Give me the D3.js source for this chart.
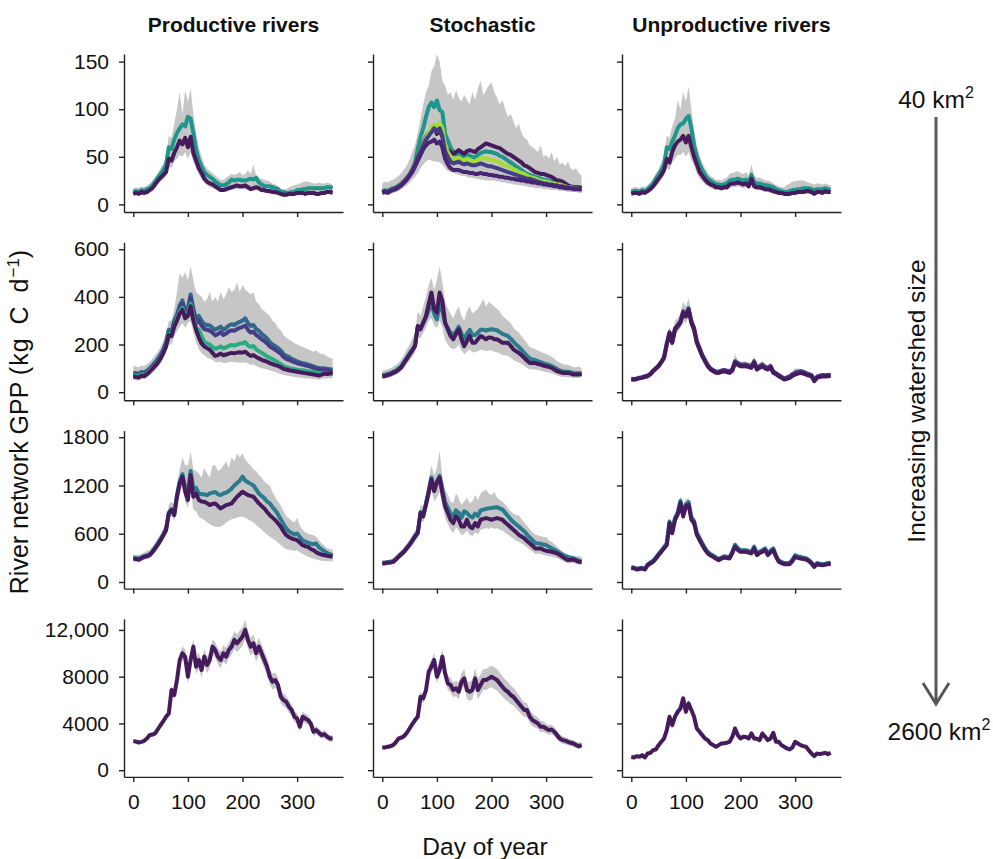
<!DOCTYPE html>
<html lang="en">
<head>
<meta charset="UTF-8">
<title>River network GPP</title>
<style>
  body { margin: 0; background: #fff; }
  svg text { font-family: "Liberation Sans", Arial, Helvetica, sans-serif; fill: #111; }
</style>
</head>
<body>
<div id="chart"></div>
<script src="https://d3js.org/d3.v7.min.js"></script>
<script>
// day of year, sampled every 5 days
var days = d3.range(0, 366, 5);

var colTitles = ["Productive rivers", "Stochastic", "Unproductive rivers"];
var yTickValues = [[0, 50, 100, 150], [0, 200, 400, 600], [0, 600, 1200, 1800], [0, 4000, 8000, 12000]];
var dayTicks = [0, 100, 200, 300];

// ---- row 1 (40 km2) ----
var prod1Hi = [17,18,17,19,18,20,22,25,29,33, 38,43,50,72,70,85,100,118,95,120, 108,122,95,75,60,50,42,38,35,33, 30,28,26,26,28,30,32,31,32,34, 31,32,36,32,42,30,28,27,26,25, 24,22,21,19,17,16,16,18,19,20, 21,22,23,24,24,23,22,22,23,22, 22,23,22,21];
var prod1Lo = [9,10,9,11,10,11,13,14,17,21, 24,26,29,40,38,45,48,52,50,55, 48,55,44,38,31,27,23,20,18,17, 16,14,13,13,13,14,15,16,16,16, 16,16,15,14,14,15,14,13,12,12, 11,11,10,10,9,8,8,9,9,9, 10,10,10,9,10,10,10,9,9,10, 10,11,11,10];
var prod1Teal = [13,14,13,15,14,16,17,20,24,28, 32,36,42,60,58,68,75,80,84,82, 92,90,75,57,47,40,34,31,29,27, 24,22,20,20,21,23,26,25,26,26, 25,25,26,27,26,28,23,21,19,19, 19,18,17,16,13,13,12,12,13,13, 15,15,16,16,17,17,17,17,17,17, 17,18,18,17];
var prod1Purple = [11,12,11,13,12,13,15,17,21,25, 28,31,34,48,46,54,60,67,63,70, 60,71,54,46,38,33,27,24,22,21, 19,17,15,15,16,17,18,19,20,19, 19,20,18,16,17,18,17,15,15,14, 14,13,13,12,11,10,10,11,11,11, 12,12,12,11,12,12,12,11,11,12, 12,13,13,12];

var stoch1Hi = [22,24,23,25,26,28,30,33,37,41, 47,55,63,75,90,105,118,125,140,145, 158,150,130,125,115,118,110,120,112,108, 115,110,105,118,110,122,130,115,120,125, 128,118,112,105,110,100,92,95,88,80, 85,75,70,68,62,60,58,55,62,50, 52,48,55,45,50,42,44,40,45,38, 36,38,33,30];
var stoch1Lo = [10,11,10,11,12,13,14,16,18,20, 23,26,29,33,38,42,45,47,46,45, 45,44,42,38,35,34,33,32,31,30, 30,29,28,28,27,27,26,26,25,25, 25,25,24,24,23,23,22,22,21,21, 20,20,19,19,18,18,17,17,17,16, 16,16,15,15,15,14,14,14,13,13, 13,13,12,12];
var stoch1Teal = [14,15,14,16,17,18,20,22,25,28, 32,37,44,58,71,80,92,102,107,102, 109,99,97,74,67,60,55,52,54,52, 50,53,51,50,49,52,54,55,56,55, 55,54,53,51,50,48,46,44,42,40, 38,36,34,32,31,30,29,28,27,26, 26,25,24,24,23,22,21,20,19,19, 18,18,17,17];
var stoch1Yellow = [13,14,13,15,16,17,19,21,24,27, 31,36,42,50,57,63,70,75,80,84, 82,86,80,62,55,50,47,48,49,47, 46,48,47,45,45,47,48,49,48,47, 47,46,45,44,42,41,40,39,37,36, 34,33,32,30,29,28,27,26,25,24, 24,23,22,22,21,21,20,19,18,18, 17,17,16,16];
var stoch1Indigo = [13,14,13,15,16,17,19,21,24,27, 31,36,42,50,56,62,68,72,76,80, 76,80,72,56,50,45,43,44,45,43, 42,43,42,41,41,42,43,42,41,40, 40,39,38,37,36,35,34,33,32,31, 30,29,28,27,27,26,25,24,23,22, 22,21,21,20,20,19,19,18,18,17, 17,17,16,16];
var stoch1Low = [12,13,12,14,15,16,18,20,23,26, 30,34,40,46,52,58,62,65,66,68, 64,66,60,48,42,38,36,36,36,35, 34,34,33,33,32,32,33,32,32,31, 31,30,30,29,29,28,28,27,27,26, 26,25,25,24,24,23,23,22,22,21, 21,20,20,19,19,18,18,17,17,17, 16,16,16,16];
var stoch1Purple = [13,14,13,15,16,17,19,21,24,27, 31,36,42,50,57,64,71,75,78,81, 74,78,71,60,57,55,53,55,57,55, 53,56,57,56,55,58,60,62,64,63, 62,61,60,59,57,55,53,52,50,48, 46,44,41,40,38,36,34,33,32,32, 31,30,29,27,25,25,24,22,20,19, 18,18,18,17];

var unprod1Hi = [17,18,18,17,19,18,20,23,27,33, 37,44,50,72,70,82,90,110,100,118, 108,124,100,78,62,52,44,38,33,30, 28,26,26,25,27,28,32,33,34,35, 33,32,34,30,42,30,28,28,27,25, 25,24,22,20,19,18,18,20,22,24, 24,25,25,25,24,23,22,21,22,22, 21,22,21,20];
var unprod1Lo = [9,10,10,9,11,10,12,13,16,19, 22,26,30,38,36,44,48,52,52,55, 50,55,47,40,33,27,24,21,19,17, 16,15,15,14,15,15,17,18,18,19, 18,17,18,16,20,16,15,15,14,13, 13,12,11,11,10,10,9,9,9,10, 10,11,11,11,11,11,11,9,11,11, 10,11,11,11];
var unprod1Teal = [13,14,14,13,15,14,16,19,22,27, 31,36,42,60,58,66,72,80,84,85, 90,93,80,62,50,42,36,31,27,25, 23,21,21,20,21,22,25,26,26,27, 26,25,26,23,31,23,22,22,21,20, 20,19,18,16,15,14,13,13,14,15, 15,16,16,17,17,17,16,15,16,16, 16,17,16,16];
var unprod1Purple = [11,12,12,11,13,12,14,16,19,23, 27,31,36,48,44,55,62,66,68,72, 65,72,60,50,42,34,30,26,23,21, 20,18,18,17,18,18,21,22,22,23, 22,21,22,19,27,19,18,18,17,16, 16,15,14,13,12,12,11,11,11,12, 12,13,13,13,14,14,13,11,13,13, 12,14,13,13];

// ---- row 2 ----
var prod2Hi = [110,108,105,112,110,118,128,140,155,170, 190,215,245,300,300,350,420,500,480,505, 470,530,470,420,410,400,380,390,420,380, 400,380,420,390,410,440,420,430,460,420, 450,430,420,410,420,380,370,350,340,330, 320,300,290,270,260,240,230,220,215,205, 200,195,190,185,180,175,170,175,165,160, 158,150,145,140];
var prod2Lo = [52,50,48,55,53,60,70,80,92,105, 120,140,165,200,200,235,255,275,290,270, 290,300,250,210,180,165,155,145,140,135, 128,126,128,122,124,126,128,126,125,125, 124,125,120,115,116,110,105,100,98,95, 92,88,85,80,76,72,70,68,66,64, 62,61,60,58,57,56,55,54,52,55, 58,57,59,58];
var prod2Blue = [82,80,78,85,83,90,100,112,125,140, 158,180,210,262,255,300,325,365,385,340, 352,410,350,305,320,300,285,282,280,270, 262,268,275,262,270,280,285,282,290,295, 300,310,290,278,282,265,258,245,236,225, 210,200,193,185,175,160,152,148,140,135, 130,125,122,120,116,112,108,104,102,100, 100,98,96,95];
var prod2Indigo = [76,74,72,79,77,84,94,106,118,132, 150,172,200,250,245,290,318,350,372,330, 340,395,335,290,300,280,265,262,258,250, 238,244,252,240,246,255,260,258,265,270, 274,280,262,250,254,240,232,222,214,205, 192,185,178,170,162,148,140,136,130,126, 122,118,116,113,110,106,102,98,96,94, 94,92,90,89];
var prod2Green = [72,70,68,75,73,80,90,102,114,128, 145,168,195,245,240,280,310,340,355,320, 330,372,315,270,262,235,212,205,200,190, 182,186,192,184,188,195,198,196,200,204, 205,210,196,190,194,180,172,165,158,150, 145,138,132,125,118,110,105,102,98,96, 94,92,92,90,88,86,84,82,80,79, 78,78,77,77];
var prod2Purple = [66,64,62,69,68,75,86,98,110,124, 142,165,192,240,235,275,300,330,345,310, 320,360,300,262,230,205,192,185,178,165, 152,156,162,155,158,162,165,163,166,168, 166,170,160,152,156,148,142,136,132,128, 122,118,114,110,105,98,95,92,90,88, 86,84,82,80,78,76,74,72,70,74, 78,76,80,78];

var stoch2Hi = [90,92,96,100,108,115,125,138,158,180, 200,225,250,340,320,360,400,450,480,430, 470,530,460,380,350,330,310,340,360,320, 300,340,360,330,340,350,370,390,360,380, 370,360,350,340,320,310,300,290,270,260, 250,235,220,205,190,185,180,175,170,165, 160,155,150,140,130,125,118,115,115,110, 105,105,108,100];
var stoch2Lo = [55,56,60,62,68,72,80,88,102,118, 132,148,165,235,225,250,270,300,310,280, 270,300,270,220,200,185,180,185,200,175, 160,170,180,168,168,172,178,178,172,175, 175,170,168,162,156,155,152,145,135,130, 125,118,110,102,96,95,95,92,90,88, 85,82,80,75,70,67,64,64,63,62, 60,60,60,62];
var stoch2Teal = [72,73,77,80,86,91,100,110,128,145, 163,180,198,275,268,290,315,345,370,330, 306,370,340,290,268,250,240,255,275,245, 225,245,262,240,240,250,262,262,258,262, 264,262,260,252,245,240,236,225,212,200, 190,178,165,152,142,138,135,130,126,122, 118,115,110,104,97,92,88,87,86,84, 80,80,80,80];
var stoch2Purple = [67,68,72,75,81,86,95,105,123,140, 158,175,193,278,264,292,320,370,418,348, 334,418,383,292,264,236,222,245,264,222, 193,215,236,207,207,222,236,230,222,230, 229,222,222,215,207,207,207,195,180,172, 165,155,144,132,123,123,123,118,116,112, 109,106,102,95,88,84,81,81,81,78, 74,74,74,76];

var unprod2Hi = [60,58,62,66,68,72,76,85,98,110, 122,140,160,230,275,235,300,310,330,380, 360,395,330,295,240,205,175,150,125,110, 100,95,95,100,102,98,96,108,160,135, 128,128,130,125,122,150,115,122,132,118, 112,122,96,88,80,72,64,70,76,85, 100,98,98,96,90,85,80,60,72,76, 78,78,80,80];
var unprod2Lo = [48,47,50,53,55,58,61,68,80,90, 100,115,132,185,230,190,240,255,268,300, 290,315,265,240,190,165,140,120,100,88, 81,76,75,79,81,78,75,84,110,106, 100,100,100,97,94,112,88,94,100,92, 88,96,75,70,62,55,49,51,55,62, 68,72,75,72,68,65,62,42,55,59, 62,61,62,63];
var unprod2Blue = [56,55,58,61,63,67,70,78,91,101, 112,128,148,205,252,212,268,282,298,340, 325,352,298,270,214,185,156,135,114,100, 93,87,86,90,93,90,88,97,130,122, 116,116,116,112,109,130,102,109,116,107, 101,110,87,80,72,65,58,62,67,76, 82,86,88,85,80,76,72,52,65,69, 72,71,72,73];
var unprod2Purple = [53,52,55,58,60,64,67,75,88,98, 109,125,144,200,248,207,262,276,290,332, 318,346,290,262,207,179,151,130,109,95, 88,82,81,85,88,84,81,90,123,115, 109,109,109,105,102,123,95,102,109,100, 95,105,81,75,67,60,53,56,60,68, 74,78,81,78,74,70,67,46,60,64, 67,66,67,68];

// ---- row 3 ----
var prod3Hi = [345,340,335,350,370,385,400,440,490,545, 600,670,740,960,1000,960,1200,1400,1550,1450, 1450,1620,1400,1380,1350,1300,1420,1350,1300,1450, 1450,1380,1400,1450,1500,1420,1550,1500,1600,1550, 1600,1520,1480,1450,1400,1380,1330,1300,1250,1220, 1200,1120,1050,1000,950,880,820,790,760,740, 800,700,650,620,600,590,580,560,520,480, 450,420,410,400];
var prod3Lo = [255,250,245,260,278,286,298,330,372,418, 470,525,585,780,820,760,960,1100,1200,1000, 920,1150,900,880,810,790,770,740,720,700, 686,680,690,710,740,760,780,790,800,810, 810,800,780,760,740,710,680,650,620,590, 561,540,520,490,460,430,410,400,395,390, 395,370,350,330,315,300,290,280,270,265, 262,260,258,255];
var prod3Teal = [300,295,290,305,322,332,345,382,428,478, 532,592,656,862,905,845,1080,1250,1340,1170, 1120,1380,1160,1170,1100,1090,1090,1080,1101,1110, 1120,1090,1080,1100,1110,1130,1160,1200,1230,1260, 1309,1260,1240,1220,1200,1150,1100,1070,1040,1000, 977,930,890,840,780,720,665,630,610,590, 603,560,520,500,490,475,470,478,430,405, 380,360,345,335];
var prod3Purple = [291,285,278,295,312,320,333,370,416,465, 520,580,644,852,894,831,1060,1226,1309,1122, 1018,1330,1060,1101,1018,1000,998,980,956,970, 977,945,915,935,956,965,977,1020,1060,1090, 1122,1100,1081,1070,1060,1020,977,945,915,870, 831,800,769,730,686,630,582,560,540,530, 520,490,457,445,436,410,395,370,353,340, 333,325,320,315];

var stoch3Hi = [265,268,275,282,292,325,360,395,430,480, 525,580,640,690,960,930,1100,1280,1450,1320, 1420,1630,1300,1150,1080,1000,980,1100,1040,960, 1000,1050,980,1000,1080,1020,1100,1130,1150,1100, 1080,1120,1050,1020,1000,960,920,880,850,830, 830,780,740,700,660,620,590,580,570,560, 560,520,500,470,440,410,380,360,340,330, 330,320,320,310];
var stoch3Lo = [205,207,212,216,224,250,282,310,340,380, 415,460,510,545,780,740,870,1000,1150,1000, 1050,1120,950,800,720,650,610,680,640,580, 600,640,590,570,620,590,650,660,670,660, 680,660,670,650,640,610,590,560,540,515, 500,480,460,430,400,380,350,350,350,335, 330,320,315,305,295,280,260,245,230,232, 235,225,215,212];
var stoch3Teal = [240,242,248,252,260,290,323,355,386,430, 470,520,575,617,870,830,980,1130,1300,1160, 1250,1320,1150,990,920,850,820,890,860,800, 879,860,820,800,850,820,890,900,910,915, 920,925,930,915,900,860,820,780,745,715, 690,660,630,590,555,520,485,480,475,465, 460,440,420,400,385,360,340,320,313,300, 296,280,265,262];
var stoch3Purple = [230,232,238,242,250,280,313,345,376,420, 460,510,565,607,858,816,962,1109,1276,1130, 1234,1297,1109,941,858,774,732,816,774,690, 690,774,690,669,732,690,774,785,795,785, 774,785,795,785,774,740,711,680,649,620, 586,565,544,510,481,450,418,418,418,400, 389,382,376,366,356,335,313,290,272,276, 280,265,251,250];

var unprod3Hi = [200,195,180,188,193,180,240,262,286,325, 375,418,465,510,790,670,850,920,1070,900, 1030,1040,860,800,650,580,510,450,400,370, 350,325,305,325,345,335,330,410,500,450, 420,420,420,405,395,470,375,400,420,440, 375,410,440,350,280,262,250,250,252,300, 365,345,335,325,315,295,262,215,250,242, 235,240,250,252];
var unprod3Lo = [160,155,140,147,152,140,192,212,232,270, 312,350,390,430,690,570,720,780,920,760, 880,900,720,680,545,485,430,370,330,305, 290,268,252,268,282,277,272,330,400,370, 350,350,350,340,332,385,312,335,350,370, 312,345,370,292,234,220,208,208,208,240, 290,280,272,266,262,242,214,175,206,200, 194,200,206,208];
var unprod3Teal = [185,180,165,172,177,165,220,242,264,303, 350,390,435,478,752,630,798,862,1010,845, 970,992,805,760,612,548,482,420,374,346, 328,305,287,305,320,314,308,378,462,420, 396,396,396,384,374,440,352,378,396,418, 352,390,418,330,266,250,236,236,236,276, 332,318,310,302,296,275,244,200,236,228, 222,228,236,240];
var unprod3Purple = [175,170,155,162,167,155,209,230,251,290, 335,375,418,460,732,607,774,837,983,816, 941,962,774,732,586,523,460,400,356,330, 313,290,272,290,305,299,293,360,439,400, 376,376,376,365,356,418,335,360,376,397, 335,370,397,313,251,235,222,222,222,260, 313,300,293,286,280,260,230,188,222,215, 209,215,222,225];

// ---- row 4 (2600 km2) ----
var prod4Hi = [2650,2620,2540,2590,2690,2890,3180,3240,3340,3700, 4080,4430,4820,5150,7200,6800,8150,9950,10600,10300, 8700,10100,11250,9600,10100,9300,10400,9700,10100,11200, 10950,10400,10150,10700,10450,10950,11300,11900,11600,11950, 12200,12900,11900,11350,11600,10800,11300,10750,10150,9600, 8700,8250,8350,7900,6900,6550,6400,5950,5650,5050, 4900,4150,5000,4850,4700,4400,3650,3780,3550,3330, 3400,3160,3000,2980];
var prod4Lo = [2330,2290,2210,2260,2350,2550,2830,2870,2960,3310, 3650,3980,4330,4580,6500,6080,7300,8900,9450,9150, 7400,8800,9900,8200,8750,7900,9000,8300,8750,9900, 9600,9050,8750,9300,9000,9600,9850,10400,10100,10350, 10650,11200,10400,9800,10100,9250,9850,9250,8700,8150, 7350,6900,7080,6650,5700,5450,5330,4920,4650,4100, 3970,3300,4150,4000,3880,3600,2930,3080,2860,2680, 2770,2560,2430,2450];
var prod4Purple = [2486,2450,2370,2420,2514,2714,3000,3050,3143,3500, 3857,4200,4571,4857,6857,6428,7714,9428,10000,9714, 8000,9428,10571,8857,9428,8571,9714,9000,9428,10571, 10285,9714,9428,10000,9714,10285,10571,11143,10857,11143, 11428,12000,11143,10571,10857,10000,10571,10000,9428,8857, 8000,7571,7714,7286,6286,6000,5857,5428,5143,4571, 4428,3714,4571,4428,4286,4000,3286,3428,3200,3000, 3086,2857,2714,2714];

var stoch4Hi = [2100,2110,2170,2230,2330,2600,2930,3010,3160,3460, 3850,4250,4600,4900,6700,6550,7300,8950,9450,10050, 8600,9200,10400,8900,8050,7950,7500,7700,7450,8300, 8650,7650,7550,7750,8750,7800,8200,8650,8650,8800, 8950,8800,8650,8350,8050,7750,7550,7250,7050,6750, 6450,6100,5800,5750,5150,4850,4650,4500,4200,4180, 4000,3850,3880,3680,3380,3080,2900,2850,2740,2650, 2580,2430,2340,2420];
var stoch4Lo = [1790,1800,1840,1880,1970,2220,2520,2570,2690,2960, 3300,3660,3980,4250,5880,5750,6420,7900,8300,8850, 7450,8000,9050,7700,6850,6650,6250,6350,6050,6900, 7150,6100,5950,6050,7050,6050,6450,6850,6850,7000, 7100,6950,6800,6550,6300,6050,5900,5650,5550,5280, 5020,4780,4520,4540,4020,3760,3650,3520,3250,3260, 3150,3020,3080,2900,2640,2380,2250,2220,2130,2050, 2000,1870,1790,1870];
var stoch4Purple = [1943,1950,2000,2050,2143,2400,2714,2780,2914,3200, 3571,3950,4286,4571,6286,6143,6857,8428,8857,9428, 8000,8571,9714,8286,7428,7286,6857,7000,6714,7571, 7857,6857,6714,6857,7857,6857,7286,7714,7714,7857, 8000,7857,7714,7428,7143,6857,6714,6428,6286,6000, 5714,5428,5143,5143,4571,4286,4143,4000,3714,3714, 3571,3428,3480,3286,3000,2714,2571,2530,2428,2343, 2286,2143,2057,2143];

var unprod4Hi = [1260,1210,1320,1270,1410,1210,1560,1610,1860,1920, 2300,2600,2900,3650,4850,4100,4850,5300,5600,6500, 5300,6050,5450,4850,3800,3500,3200,2900,2750,2450, 2300,2150,2300,2450,2470,2520,2600,3050,3800,3200, 2900,3050,3040,2900,3350,2900,2880,2750,3350,3050, 2750,2900,3400,2600,2600,2300,2150,2000,1910,2100, 2600,2450,2300,2210,2150,1850,1550,1310,1550,1490, 1550,1610,1490,1610];
var unprod4Lo = [1030,980,1080,1035,1160,980,1300,1350,1570,1620, 1990,2260,2530,3210,4300,3620,4300,4700,4980,5800, 4700,5380,4840,4300,3350,3080,2800,2530,2390,2120, 1990,1850,1990,2120,2130,2180,2260,2670,3350,2800, 2530,2670,2660,2530,2940,2530,2520,2390,2940,2670, 2390,2530,3000,2260,2260,1990,1850,1710,1630,1800, 2260,2120,1990,1910,1850,1580,1310,1090,1310,1260, 1310,1370,1260,1370];
var unprod4Purple = [1143,1090,1200,1150,1286,1086,1428,1480,1714,1770, 2143,2430,2714,3428,4571,3857,4571,5000,5286,6143, 5000,5714,5143,4571,3571,3286,3000,2714,2571,2286, 2143,2000,2143,2286,2300,2350,2428,2857,3571,3000, 2714,2857,2850,2714,3143,2714,2700,2571,3143,2857, 2571,2714,3200,2428,2430,2143,2000,1857,1771,1950, 2428,2286,2143,2057,2000,1714,1428,1200,1428,1371, 1428,1486,1371,1486];

// colours
var cPurple = "#461b5d", cTeal = "#1f968b", cTeal3 = "#2a7b8e", cBlue = "#31668d",
    cIndigo = "#433e85", cGreen = "#27ad81", cYellow = "#a5db36", cLow = "#482475", cGrey = "#c6c6c6";

var panels = [
  { row: 0, col: 0, hi: prod1Hi, lo: prod1Lo, lines: [[prod1Teal, cTeal], [prod1Purple, cPurple]] },
  { row: 0, col: 1, hi: stoch1Hi, lo: stoch1Lo, lines: [[stoch1Teal, cTeal], [stoch1Purple, cPurple], [stoch1Yellow, cYellow], [stoch1Indigo, cIndigo], [stoch1Low, cLow]] },
  { row: 0, col: 2, hi: unprod1Hi, lo: unprod1Lo, lines: [[unprod1Teal, cTeal], [unprod1Purple, cPurple]] },
  { row: 1, col: 0, hi: prod2Hi, lo: prod2Lo, lines: [[prod2Blue, cBlue], [prod2Indigo, cIndigo], [prod2Green, cGreen], [prod2Purple, cPurple]] },
  { row: 1, col: 1, hi: stoch2Hi, lo: stoch2Lo, lines: [[stoch2Teal, cTeal3], [stoch2Purple, cPurple]] },
  { row: 1, col: 2, hi: unprod2Hi, lo: unprod2Lo, lines: [[unprod2Blue, cIndigo], [unprod2Purple, cPurple]] },
  { row: 2, col: 0, hi: prod3Hi, lo: prod3Lo, lines: [[prod3Teal, cTeal3], [prod3Purple, cPurple]] },
  { row: 2, col: 1, hi: stoch3Hi, lo: stoch3Lo, lines: [[stoch3Teal, cTeal3], [stoch3Purple, cPurple]] },
  { row: 2, col: 2, hi: unprod3Hi, lo: unprod3Lo, lines: [[unprod3Teal, cTeal3], [unprod3Purple, cPurple]] },
  { row: 3, col: 0, hi: prod4Hi, lo: prod4Lo, lines: [[prod4Purple, cPurple]] },
  { row: 3, col: 1, hi: stoch4Hi, lo: stoch4Lo, lines: [[stoch4Purple, cPurple]] },
  { row: 3, col: 2, hi: unprod4Hi, lo: unprod4Lo, lines: [[unprod4Purple, cPurple]] }
];

var svg = d3.select("#chart").append("svg")
    .attr("width", 993)
    .attr("height", 859);

var colX = [124, 373, 622];
var rowY = [54, 242.3, 430.6, 618.9];
var pw = 219, ph = 158;
var yDomains = [[-8, 158], [-34, 629], [-82, 1882], [-574, 12943]];

var x = d3.scaleLinear().domain([-17, 384]).range([0, pw]);

function fmt(d) {
    return d >= 10000 ? d3.format(",")(d) : String(d);
}

panels.forEach(function(p) {
    var y = d3.scaleLinear().domain(yDomains[p.row]).range([ph, 0]);
    var g = svg.append("g")
        .attr("transform", "translate(" + colX[p.col] + "," + rowY[p.row] + ")");

    var band = d3.area()
        .x(function(d, i) { return x(days[i]); })
        .y0(function(d, i) { return y(p.lo[i]); })
        .y1(function(d, i) { return y(p.hi[i]); });

    g.append("path")
        .datum(p.hi)
        .attr("d", band)
        .attr("fill", cGrey);

    var line = d3.line()
        .x(function(d, i) { return x(days[i]); })
        .y(function(d) { return y(d); });

    p.lines.forEach(function(l) {
        g.append("path")
            .datum(l[0])
            .attr("d", line)
            .attr("fill", "none")
            .attr("stroke", l[1])
            .attr("stroke-width", 4)
            .attr("stroke-linejoin", "round");
    });

    var yAxis = d3.axisLeft(y)
        .tickValues(yTickValues[p.row])
        .tickSize(5)
        .tickSizeOuter(0)
        .tickPadding(10)
        .tickFormat(p.col === 0 ? fmt : "");
    var xAxis = d3.axisBottom(x)
        .tickValues(dayTicks)
        .tickSize(5)
        .tickSizeOuter(0)
        .tickPadding(12)
        .tickFormat(p.row === 3 ? d3.format("d") : "");

    var ya = g.append("g").call(yAxis);
    var xa = g.append("g").attr("transform", "translate(0," + ph + ")").call(xAxis);
    [ya, xa].forEach(function(a) {
        a.selectAll(".domain, line").attr("stroke", "#222").attr("stroke-width", 1.4);
        a.selectAll("text").attr("font-size", 21).attr("fill", "#111")
            .style("font-family", "'Liberation Sans', Arial, sans-serif");
    });
});

// column titles
colTitles.forEach(function(t, i) {
    svg.append("text")
        .attr("x", colX[i] + pw / 2)
        .attr("y", 32)
        .attr("text-anchor", "middle")
        .attr("font-size", 21)
        .attr("font-weight", "bold")
        .text(t);
});

// axis titles
var yl = svg.append("text")
    .attr("transform", "translate(28,422) rotate(-90)")
    .attr("text-anchor", "middle")
    .attr("font-size", 25);
yl.append("tspan").text("River network GPP ");
yl.append("tspan").attr("word-spacing", 5).attr("letter-spacing", 1).text("(kg C d");
yl.append("tspan").attr("font-size", 17).attr("dy", -9).text("\u22121");
yl.append("tspan").attr("dy", 9).text(")");

svg.append("text")
    .attr("x", 485)
    .attr("y", 855)
    .attr("text-anchor", "middle")
    .attr("font-size", 24.5)
    .text("Day of year");

// watershed size annotation
function kmLabel(txt, cx, by) {
    var t = svg.append("text")
        .attr("x", cx)
        .attr("y", by)
        .attr("text-anchor", "middle")
        .attr("font-size", 24.5);
    t.append("tspan").text(txt + " km");
    t.append("tspan").attr("font-size", 16).attr("dy", -10).text("2");
}
kmLabel("40", 936, 108);
kmLabel("2600", 939, 740);

svg.append("line")
    .attr("x1", 936).attr("y1", 117)
    .attr("x2", 936).attr("y2", 703)
    .attr("stroke", "#555")
    .attr("stroke-width", 3);
svg.append("path")
    .attr("d", "M923,683 L936,704 L949,683")
    .attr("fill", "none")
    .attr("stroke", "#555")
    .attr("stroke-width", 3);

svg.append("text")
    .attr("transform", "translate(925,401) rotate(-90)")
    .attr("text-anchor", "middle")
    .attr("font-size", 24.5)
    .text("Increasing watershed size");
</script>
</body>
</html>
